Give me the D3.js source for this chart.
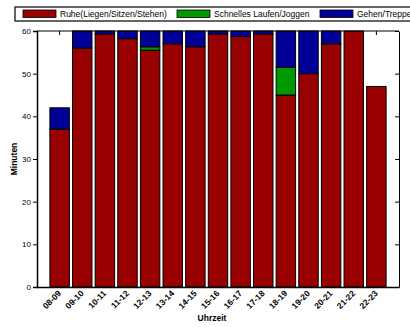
<!DOCTYPE html>
<html>
<head>
<meta charset="utf-8">
<script src="https://cdn.jsdelivr.net/npm/d3@7"></script>
<style>
  body { margin: 0; background: #fff; }
  svg { font-family: "Liberation Sans", Arial, sans-serif; }
</style>
</head>
<body>
<div id="main"></div>
<script>
// hours of the day
const hours = ['08-09', '09-10', '10-11', '11-12', '12-13', '13-14', '14-15', '15-16',
  '16-17', '17-18', '18-19', '19-20', '20-21', '21-22', '22-23'];

// minutes per hour
const ruhe    = [37, 56, 59.3, 58.2, 55.5, 57, 56.3, 59.3, 58.7, 59.3, 45, 50, 57, 60, 47];
const schnell = [0, 0, 0, 0, 0.8, 0, 0, 0, 0, 0, 6.5, 0, 0, 0, 0];
const gehen   = [5, 4, 0.7, 1.8, 3.7, 3, 3.7, 0.7, 1.3, 0.7, 8.5, 10, 3, 0, 0];

const seriesNames = ['Ruhe(Liegen/Sitzen/Stehen)', 'Schnelles Laufen/Joggen', 'Gehen/Treppensteigen'];
const colors = ['#990000', '#009900', '#000099'];
const yTicks = [0, 10, 20, 30, 40, 50, 60];

const W = 410, H = 327;
const m = {top: 31, right: 11, bottom: 40, left: 37};

const svg = d3.select('#main').append('svg')
  .attr('width', W)
  .attr('height', H);

const x = d3.scaleBand()
  .domain(hours)
  .range([m.left, W - m.right])
  .paddingInner(0.14)
  .paddingOuter(0.57);

const y = d3.scaleLinear()
  .domain([0, 60])
  .range([H - m.bottom, m.top]);

const rows = hours.map((h, i) => ({hour: h, v: [ruhe[i], schnell[i], gehen[i]]}));
const stacked = d3.stack()
  .keys([0, 1, 2])
  .value((d, k) => d.v[k])(rows);

// top ticks pointing inward (drawn first, bars hide them)
svg.append('g')
  .attr('transform', `translate(0,${m.top})`)
  .call(d3.axisTop(x).tickSize(-4).tickFormat(''))
  .call(g => g.select('.domain').remove())
  .selectAll('line').attr('stroke', '#000');

// bars
svg.append('g').selectAll('g')
  .data(stacked)
  .join('g')
    .attr('fill', (d, i) => colors[i])
  .selectAll('rect')
  .data(d => d.filter(p => p[1] - p[0] > 0))
  .join('rect')
    .attr('x', d => x(d.data.hour))
    .attr('width', x.bandwidth())
    .attr('y', d => y(d[1]))
    .attr('height', d => y(d[0]) - y(d[1]))
    .attr('stroke', '#000')
    .attr('stroke-width', 1);

// left axis
svg.append('g')
  .attr('transform', `translate(${m.left},0)`)
  .call(d3.axisLeft(y).tickValues(yTicks).tickSize(4).tickPadding(2))
  .call(g => g.selectAll('text').attr('font-size', 8).attr('fill', '#000'))
  .call(g => g.select('.domain').attr('stroke-width', 1.5));

// right axis, ticks inward
svg.append('g')
  .attr('transform', `translate(${W - m.right},0)`)
  .call(d3.axisLeft(y).tickValues(yTicks).tickSize(-0).tickFormat(''))
  .call(g => g.selectAll('.tick line').attr('x2', -4));

// top line
svg.append('line')
  .attr('x1', m.left).attr('x2', W - m.right)
  .attr('y1', m.top).attr('y2', m.top)
  .attr('stroke', '#000');

// bottom axis
svg.append('g')
  .attr('transform', `translate(0,${H - m.bottom})`)
  .call(d3.axisBottom(x).tickSize(0).tickPadding(0))
  .call(g => g.select('.domain').attr('stroke-width', 1.5))
  .selectAll('text')
    .attr('font-size', 8.5)
    .attr('font-weight', 'bold')
    .attr('fill', '#000')
    .attr('text-anchor', 'end')
    .attr('dy', 0)
    .attr('transform', 'translate(2,7) rotate(-45)');

// axis titles
svg.append('text')
  .attr('x', 212)
  .attr('y', 321)
  .attr('text-anchor', 'middle')
  .attr('font-size', 8.5)
  .attr('font-weight', 'bold')
  .text('Uhrzeit');

svg.append('text')
  .attr('transform', `translate(17,${(m.top + H - m.bottom) / 2}) rotate(-90)`)
  .attr('text-anchor', 'middle')
  .attr('font-size', 8.5)
  .attr('font-weight', 'bold')
  .text('Minuten');

// legend
const legend = svg.append('g');
legend.append('rect')
  .attr('x', 15).attr('y', 7)
  .attr('width', 410).attr('height', 14)
  .attr('fill', '#fff')
  .attr('stroke', '#333')
  .attr('stroke-width', 1.5);

const legendX = [23, 177, 320];
seriesNames.forEach((name, i) => {
  legend.append('rect')
    .attr('x', legendX[i]).attr('y', 10)
    .attr('width', 33).attr('height', 7.5)
    .attr('fill', colors[i])
    .attr('stroke', '#000')
    .attr('stroke-width', 0.8);
  legend.append('text')
    .attr('x', legendX[i] + 37).attr('y', 17)
    .attr('font-size', 8.5)
    .attr('fill', '#000')
    .text(name);
});
</script>
</body>
</html>
